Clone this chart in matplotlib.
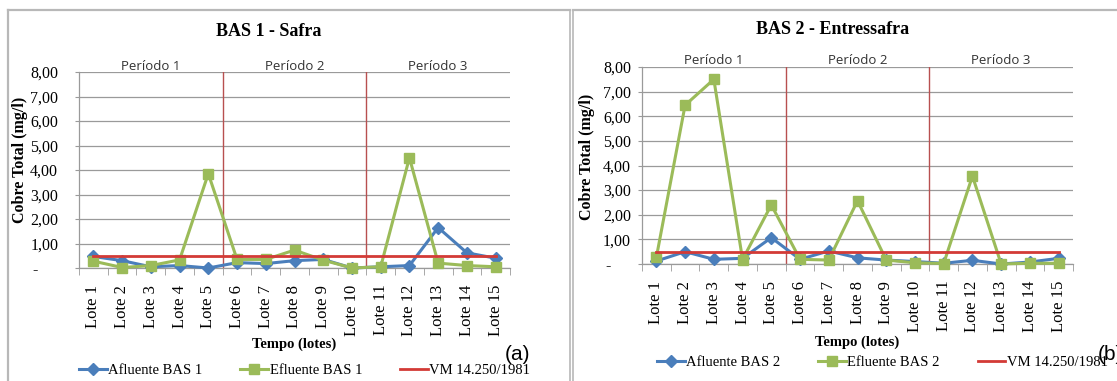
import matplotlib
matplotlib.use("Agg")
import matplotlib.pyplot as plt
from matplotlib.lines import Line2D

# ---- data -------------------------------------------------------------
lotes = [f"Lote {i}" for i in range(1, 16)]

afluente_bas1 = [0.47, 0.30, 0.05, 0.10, 0.00, 0.22, 0.18, 0.30, 0.35, 0.00,
                 0.05, 0.10, 1.65, 0.62, 0.40]
efluente_bas1 = [0.28, 0.02, 0.10, 0.33, 3.85, 0.35, 0.35, 0.73, 0.32, 0.00,
                 0.05, 4.50, 0.20, 0.10, 0.05]

afluente_bas2 = [0.12, 0.50, 0.19, 0.23, 1.07, 0.19, 0.53, 0.25, 0.16, 0.10,
                 0.03, 0.15, 0.00, 0.08, 0.23]
efluente_bas2 = [0.27, 6.45, 7.50, 0.18, 2.40, 0.19, 0.16, 2.57, 0.16, 0.05,
                 0.02, 3.57, 0.00, 0.03, 0.03]

vm_limit = 0.5
y_ticks = [0, 1, 2, 3, 4, 5, 6, 7, 8]
y_ticklabels = ["-     ", "1,00", "2,00", "3,00", "4,00", "5,00", "6,00", "7,00", "8,00"]
periodos = ["Período 1", "Período 2", "Período 3"]
period_bounds = [4.5, 9.5]

# ---- style ------------------------------------------------------------
BLUE = "#4A7EBB"
GREEN = "#9BBB59"
RED = "#D33A36"
DIVIDER = "#B85050"
GRID = "#9A9A9A"
FRAME = "#B8B8B8"
SERIF = ["Liberation Serif", "DejaVu Serif"]
SANS = ["Open Sans", "DejaVu Sans"]

W, H = 1117, 381
fig = plt.figure(figsize=(W / 100, H / 100), dpi=100)
fig.patch.set_facecolor("white")


def fx(x):
    return x / W


def fy(y):
    return 1 - y / H


# outer chart frames
fig.add_artist(Line2D([fx(8), fx(8)], [fy(10), 0], color=FRAME, lw=1.6))
fig.add_artist(Line2D([fx(8), fx(570)], [fy(10), fy(10)], color=FRAME, lw=1.6))
fig.add_artist(Line2D([fx(570), fx(570)], [fy(10), 0], color=FRAME, lw=1.2))
fig.add_artist(Line2D([fx(573), fx(573)], [fy(10), 0], color=FRAME, lw=1.2))
fig.add_artist(Line2D([fx(573), 1], [fy(10), fy(10)], color=FRAME, lw=1.6))


def panel(x0, x1, ytop, yzero, title, title_x, title_y, afl, efl, n,
          ylab_x, ylab_y, ypad, period_y, xlab_y, leg_y, leg_x,
          tag, tag_x, tag_y):
    ax = fig.add_axes([fx(x0), fy(yzero), (x1 - x0) / W, (yzero - ytop) / H])
    x = list(range(len(lotes)))
    ax.set_xlim(-0.5, len(lotes) - 0.5)
    ax.set_ylim(0, 8)

    ax.set_yticks(y_ticks)
    ax.set_yticklabels(y_ticklabels, fontfamily=SERIF, fontsize=11.5)
    ax.yaxis.grid(True, color=GRID, lw=0.9)
    ax.set_axisbelow(True)
    ax.tick_params(axis="y", length=3, color=GRID, pad=ypad)

    ax.set_xticks(x)
    ax.set_xticklabels(lotes, rotation=90, fontfamily=SERIF, fontsize=12)
    ax.set_xticks([i - 0.5 for i in range(len(lotes) + 1)], minor=True)
    ax.tick_params(axis="x", which="major", length=0, pad=12)
    ax.tick_params(axis="x", which="minor", length=5, color=GRID)

    for s in ("top", "right"):
        ax.spines[s].set_visible(False)
    for s in ("left", "bottom"):
        ax.spines[s].set_color(GRID)
        ax.spines[s].set_linewidth(0.9)

    for b in period_bounds:
        ax.axvline(b, ymin=0, ymax=1, color=DIVIDER, lw=1.0, zorder=1)

    ax.plot(x, afl, color=BLUE, lw=2.2, marker="D", ms=6, zorder=3,
            clip_on=False)
    ax.plot(x, efl, color=GREEN, lw=2.2, marker="s", ms=7, zorder=3,
            clip_on=False)
    ax.plot(x, [vm_limit] * len(lotes), color=RED, lw=2.0, zorder=4)

    # period labels over each group of lots
    centers = [2, 7, 12]
    for c, p in zip(centers, periodos):
        px = x0 + (c + 0.5) / len(lotes) * (x1 - x0)
        fig.text(fx(px), fy(period_y), p, fontfamily=SANS, fontsize=9.5,
                 color="#333333", ha="center", va="center")

    fig.text(fx(title_x), fy(title_y), title,
             fontfamily=SERIF, fontsize=13, fontweight="bold",
             ha="center", va="center")
    fig.text(fx(ylab_x), fy(ylab_y), "Cobre Total (mg/l)",
             fontfamily=SERIF, fontsize=11.5, fontweight="bold",
             rotation=90, ha="center", va="center")
    fig.text(fx((x0 + x1) / 2), fy(xlab_y), "Tempo (lotes)",
             fontfamily=SERIF, fontsize=10.5, fontweight="bold",
             ha="center", va="center")

    # legend
    handles = [
        Line2D([], [], color=BLUE, lw=2.2, marker="D", ms=6),
        Line2D([], [], color=GREEN, lw=2.2, marker="s", ms=7),
        Line2D([], [], color=RED, lw=2.0),
    ]
    labels = [f"Afluente BAS {n}", f"Efluente BAS {n}", "VM 14.250/1981"]
    fig.legend(handles, labels, loc="center left",
               bbox_to_anchor=(fx(leg_x), fy(leg_y)), ncol=3, frameon=False,
               prop={"family": SERIF, "size": 10.5}, handlelength=1.9,
               handletextpad=0.1, columnspacing=2.6, borderpad=0,
               borderaxespad=0)

    fig.text(fx(tag_x), fy(tag_y), tag, fontfamily=["Liberation Sans"],
             fontsize=15, ha="left", va="center")
    return ax


panel(79, 510, 72, 268, "BAS 1 - Safra", 269, 32, afluente_bas1,
      efluente_bas1, 1, ylab_x=20, ylab_y=160, ypad=12, period_y=67,
      xlab_y=344, leg_y=370, leg_x=79, tag="(a)", tag_x=505, tag_y=355)
panel(642, 1073, 67, 264, "BAS 2 - Entressafra", 833, 30, afluente_bas2,
      efluente_bas2, 2, ylab_x=587, ylab_y=157, ypad=5, period_y=61,
      xlab_y=342, leg_y=362, leg_x=657, tag="(b)", tag_x=1098, tag_y=354)

fig.savefig("out.png", dpi=100, facecolor="white")
